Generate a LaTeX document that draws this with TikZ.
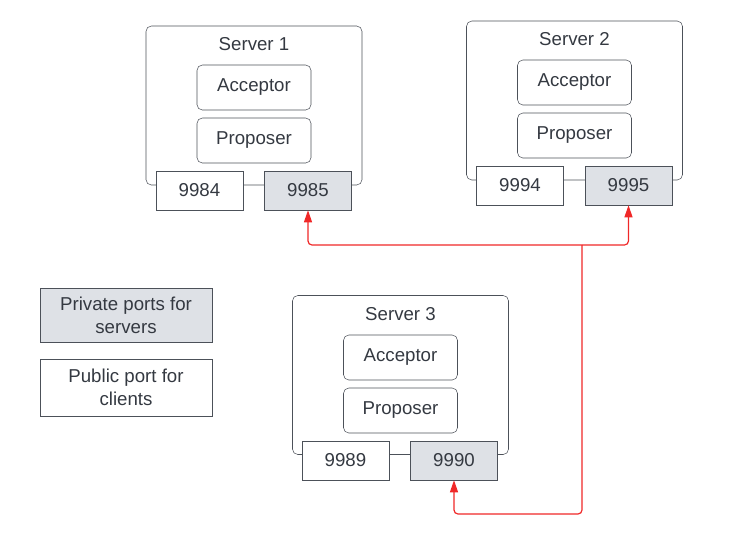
\documentclass[tikz,border=0pt]{standalone}
\usepackage{fontspec}
\setmainfont{Liberation Sans}
\usetikzlibrary{arrows.meta}

\definecolor{boxline}{RGB}{76,81,89}
\definecolor{boxtext}{RGB}{52,57,65}
\definecolor{portfill}{RGB}{222,225,230}
\definecolor{linkred}{RGB}{240,40,40}

\begin{document}
\begin{tikzpicture}[x=0.75pt,y=0.75pt,yscale=-1,xscale=1,
	every node/.style={text=boxtext,font=\fontsize{14}{17}\selectfont},
	server/.style={draw=boxline,rounded corners=4pt,minimum width=162pt,minimum height=119.25pt,inner sep=0pt},
	role/.style={draw=boxline,rounded corners=4pt,minimum width=85.5pt,minimum height=33.75pt,inner sep=0pt},
	pubport/.style={draw=boxline,fill=white,minimum width=65.25pt,minimum height=29.25pt,inner sep=0pt},
	privport/.style={pubport,fill=portfill},
	legend/.style={draw=boxline,minimum width=129pt,align=center,inner sep=0pt},
	link/.style={draw=linkred,line width=0.9pt,rounded corners=3pt},
	]
	%set diagram size 742 x 558
	\path[use as bounding box] (0,0) rectangle (742,558);

	% Server 1
	\node[server] (srv1) at (254,105.5) {};
	\node (srv1title) at (254,44) {Server 1};
	\node[role] (acc1) at (254,87.5) {Acceptor};
	\node[role] (prop1) at (254,140.5) {Proposer};
	\node[pubport] (p9984) at (199.5,190.5) {9984};
	\node[privport] (p9985) at (308,190.5) {9985};

	% Server 2
	\node[server] (srv2) at (574.5,100.5) {};
	\node (srv2title) at (574.5,39) {Server 2};
	\node[role] (acc2) at (574.5,82.5) {Acceptor};
	\node[role] (prop2) at (574.5,135.5) {Proposer};
	\node[pubport] (p9994) at (520,185.5) {9994};
	\node[privport] (p9995) at (628.5,185.5) {9995};

	% Server 3
	\node[server] (srv3) at (400.5,375) {};
	\node (srv3title) at (400.5,314) {Server 3};
	\node[role] (acc3) at (400.5,357.5) {Acceptor};
	\node[role] (prop3) at (400.5,410.5) {Proposer};
	\node[pubport] (p9989) at (345.5,460.5) {9989};
	\node[privport] (p9990) at (454,460.5) {9990};

	% Legend
	\node[legend,fill=portfill,minimum height=40.5pt] (privkey) at (126,315) {Private ports for\\servers};
	\node[legend,minimum height=42.75pt] (pubkey) at (126,387.5) {Public port for\\clients};

	% Links between private ports
	\coordinate (hub) at (582,245);
	\coordinate (bend) at (582,514);
	\draw[link,-{Triangle[length=9pt,width=6pt]}] (hub) -- (bend) -| (p9990.south);
	\draw[link,-{Triangle[length=9pt,width=6pt]}] (hub) -| (p9985.south);
	\draw[link,-{Triangle[length=9pt,width=6pt]}] (hub) -| (p9995.south);
\end{tikzpicture}
\end{document}
